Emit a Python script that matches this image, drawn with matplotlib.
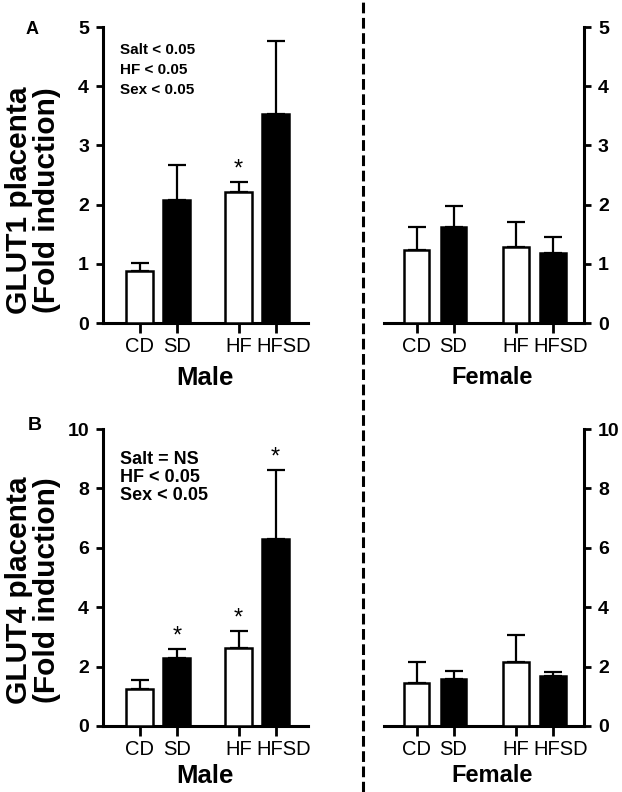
import numpy as np
import matplotlib
matplotlib.use("Agg")
import matplotlib.pyplot as plt
from matplotlib.lines import Line2D

plt.rcParams['font.family'] = ['Liberation Sans', 'DejaVu Sans']

groups = ['CD', 'SD', 'HF', 'HFSD']
bar_colors = ['white', 'black', 'white', 'black']

# GLUT1 (panel A)
glut1_male = [0.88, 2.08, 2.21, 3.53]
glut1_male_err = [0.13, 0.59, 0.18, 1.23]
glut1_female = [1.24, 1.63, 1.28, 1.18]
glut1_female_err = [0.39, 0.35, 0.43, 0.27]
glut1_male_star = [False, False, True, False]

# GLUT4 (panel B)
glut4_male = [1.24, 2.28, 2.62, 6.29]
glut4_male_err = [0.31, 0.31, 0.57, 2.32]
glut4_female = [1.46, 1.57, 2.14, 1.68]
glut4_female_err = [0.68, 0.29, 0.92, 0.14]
glut4_male_star = [False, True, True, True]

W, H = 622, 792
fig = plt.figure(figsize=(W / 100, H / 100), dpi=100)

xpos = np.array([1.0, 2.0, 3.68, 4.68])
TICK_LEN, TICK_PAD = 7, 3


def px_axes(x0, x1, ytop, ybot):
    return fig.add_axes([x0 / W, 1 - ybot / H, (x1 - x0) / W, (ybot - ytop) / H])


def draw_panel(ax, vals, errs, stars, ymax, step, side, xlim, bw):
    ax.bar(xpos, vals, width=bw, color=bar_colors, edgecolor='black',
           linewidth=1.8, zorder=3)
    ax.errorbar(xpos, vals, yerr=[np.zeros(len(vals)), errs], fmt='none',
                ecolor='black', elinewidth=1.6, capsize=6.5, capthick=1.6,
                zorder=2)
    for x, v, e, s in zip(xpos, vals, errs, stars):
        if s:
            ax.text(x, v + e + ymax * 0.005, '*', ha='center', va='bottom',
                    fontsize=17)
    ax.set_xlim(*xlim)
    ax.set_ylim(0, ymax)
    ax.set_xticks(xpos)
    # last label (HFSD) sits a bit right of its tick in the original
    ax.set_xticklabels(groups[:3] + [''], fontsize=14.5)
    ax.annotate(groups[3], xy=(xpos[3], 0), xycoords=('data', 'axes fraction'),
                xytext=(5.5, -(TICK_LEN + TICK_PAD)), textcoords='offset points',
                ha='center', va='top', fontsize=14.5)
    ticks = np.arange(0, ymax + 0.01, step)
    ax.set_yticks(ticks)
    ax.set_yticklabels([str(int(t)) for t in ticks], fontsize=14, fontweight='bold')
    for sp in ['top', 'left', 'right']:
        ax.spines[sp].set_visible(False)
    ax.spines['bottom'].set_linewidth(2.2)
    ax.spines[side].set_visible(True)
    ax.spines[side].set_linewidth(2.2)
    ax.tick_params(axis='x', length=TICK_LEN, width=2, pad=TICK_PAD)
    ax.tick_params(axis='y', length=5, width=2, pad=5)
    if side == 'right':
        ax.yaxis.tick_right()
    ax.spines[side].set_bounds(0, ymax)
    ax.patch.set_alpha(0)


male_xlim = (0.0, 5.56)
female_xlim = (0.12, 5.53)

axA_m = px_axes(103, 308, 27, 323)
draw_panel(axA_m, glut1_male, glut1_male_err, glut1_male_star, 5, 1, 'left', male_xlim, 0.73)
axA_f = px_axes(384, 584, 27, 323)
draw_panel(axA_f, glut1_female, glut1_female_err, [False] * 4, 5, 1, 'right', female_xlim, 0.70)

axB_m = px_axes(103, 308, 429, 726)
draw_panel(axB_m, glut4_male, glut4_male_err, glut4_male_star, 10, 2, 'left', male_xlim, 0.73)
axB_f = px_axes(384, 584, 429, 726)
draw_panel(axB_f, glut4_female, glut4_female_err, [False] * 4, 10, 2, 'right', female_xlim, 0.70)


def ftext(x, y, s, **kw):
    fig.text(x / W, 1 - y / H, s, **kw)


# sex labels
for y in (378, 776):
    ftext(205, y, 'Male', ha='center', va='center', fontsize=18.5, fontweight='bold')
    ftext(492, y, 'Female', ha='center', va='center', fontsize=17, fontweight='bold')

# y labels
ftext(33, 200, 'GLUT1 placenta\n(Fold induction)', ha='center', va='center',
      rotation=90, fontsize=21.5, fontweight='bold', linespacing=1.0)
ftext(33, 590, 'GLUT4 placenta\n(Fold induction)', ha='center', va='center',
      rotation=90, fontsize=21.5, fontweight='bold', linespacing=1.0)

# panel letters
ftext(32, 29, 'A', ha='center', va='center', fontsize=13, fontweight='bold')
ftext(35, 426, 'B', ha='center', va='center', fontsize=14, fontweight='bold')

# stats
for i, s in enumerate(['Salt < 0.05', 'HF < 0.05', 'Sex < 0.05']):
    ftext(120, 50 + 20 * i, s, ha='left', va='center', fontsize=11, fontweight='bold')
for i, s in enumerate(['Salt = NS', 'HF < 0.05', 'Sex < 0.05']):
    ftext(120, 459 + 18.5 * i, s, ha='left', va='center', fontsize=13, fontweight='bold')

# dashed divider
fig.add_artist(Line2D([363 / W, 363 / W], [0, 1], transform=fig.transFigure,
                      color='black', linewidth=2.2, linestyle=(0, (3.5, 1.5))))

fig.savefig('out.png', dpi=100)
